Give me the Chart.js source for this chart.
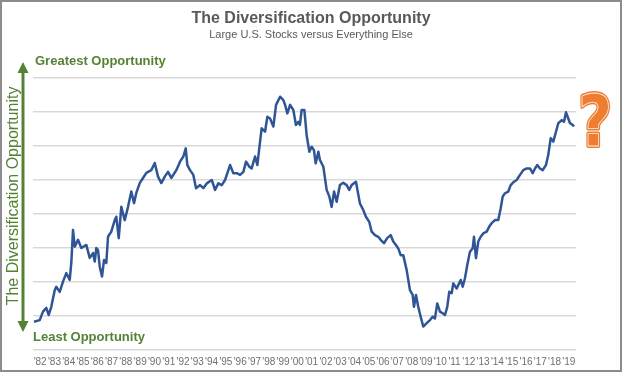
<!DOCTYPE html>
<html>
<head>
<meta charset="utf-8">
<script src="https://cdn.jsdelivr.net/npm/chart.js@4"></script>
<style>
  html, body { margin: 0; padding: 0; background: #fff; }
  #wrap { position: relative; width: 624px; height: 374px; }
  #frame { position: absolute; left: 0; top: 0; width: 622px; height: 372px; box-sizing: border-box; border: 2px solid #8c8c8c; pointer-events: none; }
</style>
</head>
<body>
<div id="wrap">
  <canvas id="chart" width="624" height="374"></canvas>
  <div id="frame"></div>
</div>
<script>
// x positions in decimal years, y is the relative opportunity index (0 = least, 8 = greatest)
const dates = [
  1982.07, 1982.47, 1982.70, 1982.93, 1983.10, 1983.28, 1983.52, 1983.63, 1983.87, 1984.10,
  1984.33, 1984.57, 1984.68, 1984.80, 1984.92, 1985.15, 1985.38, 1985.73, 1985.97, 1986.20,
  1986.32, 1986.43, 1986.55, 1986.67, 1986.83, 1986.97, 1987.13, 1987.25, 1987.48, 1987.72,
  1987.83, 1988.00, 1988.18, 1988.42, 1988.65, 1988.88, 1989.07, 1989.23, 1989.47, 1989.70,
  1989.93, 1990.28, 1990.52, 1990.75, 1990.98, 1991.22, 1991.45, 1991.68, 1992.03, 1992.29,
  1992.52, 1992.69, 1992.80, 1992.99, 1993.22, 1993.41, 1993.69, 1993.92, 1994.16, 1994.51,
  1994.74, 1994.97, 1995.21, 1995.44, 1995.79, 1996.02, 1996.26, 1996.49, 1996.72, 1996.91,
  1997.14, 1997.30, 1997.54, 1997.70, 1997.89, 1998.00, 1998.24, 1998.40, 1998.59, 1998.82,
  1999.01, 1999.29, 1999.52, 1999.64, 1999.80, 1999.99, 2000.22, 2000.40, 2000.57, 2000.68,
  2000.80, 2000.99, 2001.15, 2001.34, 2001.50, 2001.66, 2001.78, 2001.97, 2002.08, 2002.32,
  2002.55, 2002.74, 2002.90, 2003.07, 2003.25, 2003.48, 2003.71, 2003.95, 2004.13, 2004.30,
  2004.60, 2004.88, 2005.11, 2005.30, 2005.53, 2005.70, 2005.93, 2006.16, 2006.33, 2006.56,
  2006.79, 2007.03, 2007.21, 2007.40, 2007.56, 2007.73, 2007.91, 2008.15, 2008.38, 2008.57,
  2008.66, 2008.80, 2008.96, 2009.13, 2009.31, 2009.55, 2009.78, 2009.97, 2010.13, 2010.29,
  2010.48, 2010.67, 2010.83, 2010.99, 2011.13, 2011.30, 2011.41, 2011.65, 2011.93, 2012.07,
  2012.23, 2012.39, 2012.58, 2012.77, 2012.86, 2013.00, 2013.16, 2013.33, 2013.51, 2013.75,
  2013.93, 2014.10, 2014.33, 2014.56, 2014.73, 2014.87, 2015.03, 2015.26, 2015.43, 2015.66,
  2015.85, 2016.08, 2016.31, 2016.55, 2016.78, 2016.97, 2017.13, 2017.29, 2017.48, 2017.67,
  2017.90, 2018.06, 2018.23, 2018.41, 2018.60, 2018.76, 2019.00, 2019.16, 2019.30, 2019.46,
  2019.58, 2019.77, 2019.86
];
const values = [
  0.83, 0.88, 1.13, 1.24, 1.03, 1.27, 1.76, 1.86, 1.71, 2.01,
  2.26, 2.06, 2.56, 3.53, 3.04, 3.24, 3.00, 3.09, 2.71, 2.85,
  2.60, 3.00, 2.94, 2.45, 2.16, 2.65, 2.56, 3.33, 3.48, 3.82,
  3.92, 3.29, 4.21, 3.82, 4.21, 4.66, 4.32, 4.62, 4.91, 5.06,
  5.21, 5.29, 5.50, 5.10, 4.91, 5.10, 5.24, 5.06, 5.29, 5.54,
  5.69, 5.93, 5.44, 5.29, 5.15, 4.76, 4.85, 4.76, 4.90, 5.00,
  4.71, 4.90, 4.85, 5.00, 5.44, 5.20, 5.20, 5.15, 5.24, 5.54,
  5.39, 5.34, 5.69, 5.44, 6.13, 6.52, 6.42, 6.86, 6.81, 6.57,
  7.21, 7.45, 7.35, 7.21, 6.96, 7.21, 7.06, 6.62, 6.71, 6.62,
  7.06, 7.06, 6.32, 5.83, 5.98, 5.88, 5.49, 5.83, 5.59, 5.39,
  4.71, 4.51, 4.21, 4.66, 4.36, 4.85, 4.92, 4.85, 4.71, 4.85,
  4.95, 4.31, 4.12, 3.92, 3.77, 3.48, 3.38, 3.33, 3.24, 3.14,
  3.29, 3.38, 3.19, 3.09, 2.99, 2.79, 2.79, 2.35, 1.76, 1.62,
  1.27, 1.62, 1.27, 0.98, 0.69, 0.79, 0.88, 0.98, 0.93, 1.37,
  1.13, 1.08, 1.03, 1.27, 1.71, 1.67, 1.96, 1.81, 2.06, 1.86,
  2.11, 2.50, 2.89, 2.99, 3.33, 2.70, 3.19, 3.33, 3.43, 3.48,
  3.63, 3.73, 3.82, 3.82, 4.17, 4.51, 4.61, 4.66, 4.85, 4.95,
  5.00, 5.15, 5.29, 5.34, 5.34, 5.20, 5.34, 5.44, 5.34, 5.29,
  5.44, 5.74, 6.23, 6.13, 6.42, 6.67, 6.76, 6.71, 6.99, 6.81,
  6.67, 6.62, 6.57
];
const yearTicks = [
  1982, 1983, 1984, 1985, 1986, 1987, 1988, 1989, 1990, 1991,
  1992, 1993, 1994, 1995, 1996, 1997, 1998, 1999, 2000, 2001,
  2002, 2003, 2004, 2005, 2006, 2007, 2008, 2009, 2010, 2011,
  2012, 2013, 2014, 2015, 2016, 2017, 2018, 2019
];

const green = "#548235";
const gridColor = "#d9d9d9";

const annotations = {
  id: "annotations",
  afterDraw(chart) {
    const ctx = chart.ctx;
    ctx.save();
    // title
    ctx.fillStyle = "#595959";
    ctx.textAlign = "center";
    ctx.textBaseline = "alphabetic";
    ctx.font = "bold 16px 'Liberation Sans', Arial, sans-serif";
    ctx.fillText("The Diversification Opportunity", 311, 23);
    ctx.font = "11px 'Liberation Sans', Arial, sans-serif";
    ctx.fillText("Large U.S. Stocks versus Everything Else", 311, 38);

    // green corner labels
    ctx.fillStyle = green;
    ctx.textAlign = "left";
    ctx.font = "bold 13px 'Liberation Sans', Arial, sans-serif";
    ctx.fillText("Greatest Opportunity", 35, 65);
    ctx.fillText("Least Opportunity", 33, 341);

    // double arrow
    ctx.strokeStyle = green;
    ctx.lineWidth = 3;
    ctx.beginPath();
    ctx.moveTo(23, 72);
    ctx.lineTo(23, 322);
    ctx.stroke();
    ctx.beginPath();
    ctx.moveTo(23, 62); ctx.lineTo(17.5, 73); ctx.lineTo(28.5, 73); ctx.closePath();
    ctx.moveTo(23, 332); ctx.lineTo(17.5, 321); ctx.lineTo(28.5, 321); ctx.closePath();
    ctx.fill();

    // rotated axis label
    ctx.save();
    ctx.translate(18, 196);
    ctx.rotate(-Math.PI / 2);
    ctx.textAlign = "center";
    ctx.font = "16px 'Liberation Sans', Arial, sans-serif";
    ctx.fillText("The Diversification Opportunity", 0, 0);
    ctx.restore();

    // question mark: orange glyph with a thin white inner contour
    ctx.save();
    ctx.translate(595, 146);
    ctx.scale(0.82, 1);
    ctx.textAlign = "center";
    ctx.font = "bold 72px 'DejaVu Sans', sans-serif";
    ctx.lineJoin = "round";
    ctx.fillStyle = "#ed7d31";
    ctx.strokeStyle = "#ed7d31";
    ctx.lineWidth = 4;
    ctx.strokeText("?", 0, 0);
    ctx.fillText("?", 0, 0);
    ctx.strokeStyle = "rgba(255,255,255,0.85)";
    ctx.lineWidth = 0.9;
    ctx.strokeText("?", 0, 0);
    ctx.restore();
    ctx.restore();
  }
};

new Chart(document.getElementById("chart"), {
  type: "line",
  data: {
    datasets: [{
      data: dates.map((d, i) => ({ x: d, y: values[i] })),
      borderColor: "#2f5597",
      borderWidth: 2.5,
      borderJoinStyle: "round",
      pointRadius: 0,
      tension: 0,
      fill: false
    }]
  },
  options: {
    responsive: false,
    animation: false,
    events: [],
    layout: { padding: { left: 33, top: 78, right: 48, bottom: 0 } },
    plugins: { legend: { display: false }, title: { display: false }, tooltip: { enabled: false } },
    scales: {
      x: {
        type: "linear",
        min: 1982,
        max: 2020,
        afterBuildTicks: (scale) => { scale.ticks = yearTicks.map(y => ({ value: y + 0.5 })); },
        afterFit: (scale) => { scale.height = 24; },
        grid: { display: false, drawTicks: false },
        border: { display: false },
        ticks: {
          autoSkip: false,
          maxRotation: 0,
          padding: 6,
          color: "#6f6f6f",
          font: { family: "'Liberation Sans', Arial, sans-serif", size: 10 },
          callback: (v) => "'" + String(Math.floor(v)).slice(2)
        }
      },
      y: {
        min: 0,
        max: 8,
        afterFit: (scale) => { scale.width = 0; },
        ticks: { display: false, stepSize: 1 },
        grid: { color: gridColor, lineWidth: 1.5, drawTicks: false },
        border: { display: false }
      }
    }
  },
  plugins: [annotations]
});
</script>
</body>
</html>
